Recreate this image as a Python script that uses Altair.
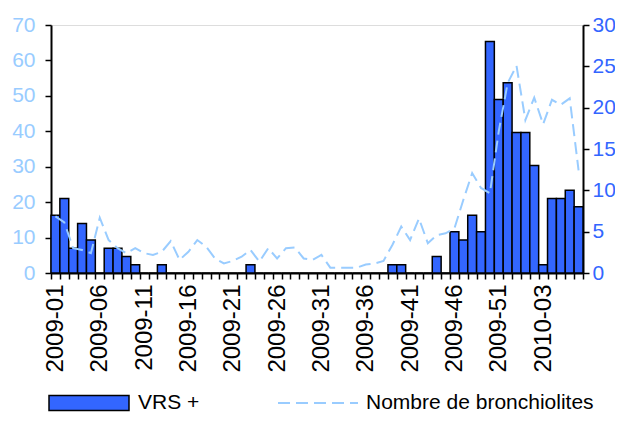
import altair as alt
import pandas as pd

weeks = [f"2009-{i:02d}" for i in range(1, 54)] + [f"2010-{i:02d}" for i in range(1, 8)]

vrs = [7, 9, 3, 6, 4, 0, 3, 3, 2, 1, 0, 0, 1,
       0, 0, 0, 0, 0, 0, 0, 0, 0,
       1,
       0, 0, 0, 0, 0, 0, 0, 0, 0, 0, 0, 0, 0, 0, 0,
       1, 1,
       0, 0, 0,
       2, 0,
       5, 4, 7, 5, 28, 21, 23, 17,
       17, 13, 1, 9, 9, 10, 8]

bronch = [16, 14.3, 7, 6.5, 5.6, 15.6, 9.3, 7, 5.6, 7, 5.6, 5.1, 6, 9, 3.7, 6,
          9.3, 7.4, 4.1, 2.7, 3.4, 4.6, 6.5, 3.2, 7, 4.1, 7, 7.2, 4.1, 3.7, 5.1,
          1.5, 1.5, 1.5, 1.5, 2.4, 2.7, 3.4, 7.9, 13.1, 9.3, 15.4, 8.4, 10.7,
          11.2, 12.6, 20.6, 28.2, 24, 22.5, 40, 53.6, 58.5, 43.2, 49.5, 42,
          48.9, 47.5, 49.3, 29]

shown_labels = weeks[::5]

df = pd.DataFrame({"week": weeks, "vrs": vrs, "bronch": bronch})

FONT = "Liberation Sans"
FS = 21

label_list = "[" + ",".join(f"'{w}'" for w in shown_labels) + "]"

x_enc = alt.X(
    "week:N",
    sort=weeks,
    scale=alt.Scale(paddingInner=0, paddingOuter=0),
    axis=alt.Axis(
        title=None,
        labelAngle=270,
        labelAlign="right",
        labelBaseline="middle",
        labelExpr=f"indexof({label_list}, datum.value) >= 0 ? datum.value : ''",
        labelOverlap=False,
        tickBand="extent",
        tickSize=6,
        tickWidth=1.5,
        tickColor="black",
        domainColor="black",
        domainWidth=2,
        labelPadding=5,
        labelFont=FONT,
        labelFontSize=24,
        labelColor="black",
    ),
)

bars = alt.Chart(df).transform_calculate(series="'VRS +'").mark_bar(
    stroke="black", strokeWidth=1.5
).encode(
    x=x_enc,
    y=alt.Y(
        "vrs:Q",
        scale=alt.Scale(domain=[0, 30], nice=False),
        axis=alt.Axis(
            orient="right",
            title=None,
            values=list(range(0, 31, 5)),
            grid=False,
            tickSize=6,
            tickWidth=1.5,
            tickColor="black",
            domainColor="black",
            domainWidth=2,
            labelPadding=3,
            labelFont=FONT,
            labelFontSize=FS,
            labelColor="#3366FF",
        ),
    ),
    fill=alt.Fill(
        "series:N",
        scale=alt.Scale(domain=["VRS +"], range=["#3366FF"]),
        legend=alt.Legend(
            title=None,
            orient="none",
            legendX=-3,
            legendY=337,
            symbolType="M-1,-0.19H1V0.19H-1Z",
            symbolSize=6400,
            symbolStrokeColor="black",
            symbolStrokeWidth=1.5,
            labelFont=FONT,
            labelFontSize=FS,
            labelColor="black",
            labelOffset=8,
            labelLimit=400,
            padding=0,
        ),
    ),
)

line_legend = alt.Legend(
    title=None,
    orient="none",
    legendX=226,
    legendY=337,
    symbolType="stroke",
    symbolSize=6400,
    symbolStrokeWidth=2,
    labelFont=FONT,
    labelFontSize=FS,
    labelColor="black",
    labelOffset=7,
    labelLimit=400,
    padding=0,
)

line = alt.Chart(df).transform_calculate(s2="'Nombre de bronchiolites'").mark_line(
    strokeWidth=2
).encode(
    x=x_enc,
    y=alt.Y(
        "bronch:Q",
        scale=alt.Scale(domain=[0, 70], nice=False),
        axis=alt.Axis(
            orient="left",
            title=None,
            values=list(range(0, 71, 10)),
            grid=False,
            tickSize=6,
            tickWidth=1.5,
            tickColor="black",
            domainColor="black",
            domainWidth=2,
            labelPadding=10,
            labelFont=FONT,
            labelFontSize=FS,
            labelColor="#99CCFF",
        ),
    ),
    stroke=alt.Stroke(
        "s2:N",
        scale=alt.Scale(domain=["Nombre de bronchiolites"], range=["#99CCFF"]),
        legend=line_legend,
    ),
    strokeDash=alt.StrokeDash(
        "s2:N",
        scale=alt.Scale(domain=["Nombre de bronchiolites"], range=[[12, 6]]),
        legend=line_legend,
    ),
)

chart = alt.layer(bars, line).resolve_scale(y="independent").properties(
    width=532,
    height=248,
    padding={"left": 43, "top": 17, "right": 32, "bottom": 141},
    autosize=alt.AutoSizeParams(type="none"),
).configure_view(stroke=None).configure(background="white")

chart.save("out.html", embed_options={"renderer": "svg", "actions": False})
